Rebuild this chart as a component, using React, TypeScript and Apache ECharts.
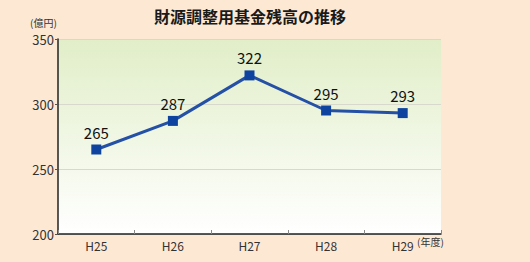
import React, { useEffect, useRef } from "react";
import * as echarts from "echarts";

const categories = ["H25", "H26", "H27", "H28", "H29"];
const values = [265, 287, 322, 295, 293];
const yTicks = { min: 200, max: 350, interval: 50 };
const title = "財源調整用基金残高の推移";
const yUnit = "(億円)";
const xUnit = "(年度)";

export default function App() {
  const ref = useRef<HTMLDivElement>(null);
  useEffect(() => {
    const chart = echarts.init(ref.current!, null, { renderer: "svg" });
    const font = "'Noto Sans CJK JP', 'Noto Sans', sans-serif";
    chart.setOption({
      animation: false,
      backgroundColor: "#fde9d3",
      textStyle: { fontFamily: font },
      title: {
        text: title,
        left: 245,
        textAlign: "center",
        top: 3,
        textStyle: { fontSize: 16, fontWeight: "bold", color: "#1a1a1a", fontFamily: font },
      },
      grid: {
        left: 58,
        right: 89,
        top: 39,
        bottom: 28,
        show: true,
        borderWidth: 0,
        backgroundColor: new echarts.graphic.LinearGradient(0, 0, 0, 1, [
          { offset: 0, color: "#e1eec8" },
          { offset: 1, color: "#ffffff" },
        ]),
      },
      xAxis: {
        type: "category",
        data: categories,
        boundaryGap: true,
        axisLine: { lineStyle: { color: "#222", width: 1.5 } },
        axisTick: { show: true, inside: true, length: 4, lineStyle: { color: "#888" } },
        axisLabel: { color: "#333", fontSize: 12, margin: 5, fontFamily: font },
      },
      yAxis: {
        type: "value",
        min: yTicks.min,
        max: yTicks.max,
        interval: yTicks.interval,
        axisLine: { show: true, lineStyle: { color: "#222", width: 1.5 } },
        axisTick: { show: true, length: 3, lineStyle: { color: "#555" } },
        axisLabel: { color: "#333", fontSize: 13, margin: 4, fontFamily: font },
        splitLine: { lineStyle: { color: "#d6d9cc", width: 1 } },
      },
      graphic: [
        {
          type: "text",
          left: 30,
          top: 17,
          style: { text: yUnit, fontSize: 10, fill: "#333", fontFamily: font },
        },
        {
          type: "text",
          left: 417,
          top: 236,
          style: { text: xUnit, fontSize: 10, fill: "#333", fontFamily: font },
        },
      ],
      series: [
        {
          type: "line",
          data: values,
          symbol: "rect",
          symbolSize: 10,
          lineStyle: { color: "#2450a6", width: 3 },
          itemStyle: { color: "#0e44a0" },
          label: {
            show: true,
            position: "top",
            distance: 5,
            fontSize: 15,
            color: "#111",
            fontFamily: font,
          },
        },
      ],
    });
    return () => chart.dispose();
  }, []);
  return (
    <div
      ref={ref}
      style={{ position: "absolute", left: 0, top: 0, width: 530, height: 262 }}
    />
  );
}
